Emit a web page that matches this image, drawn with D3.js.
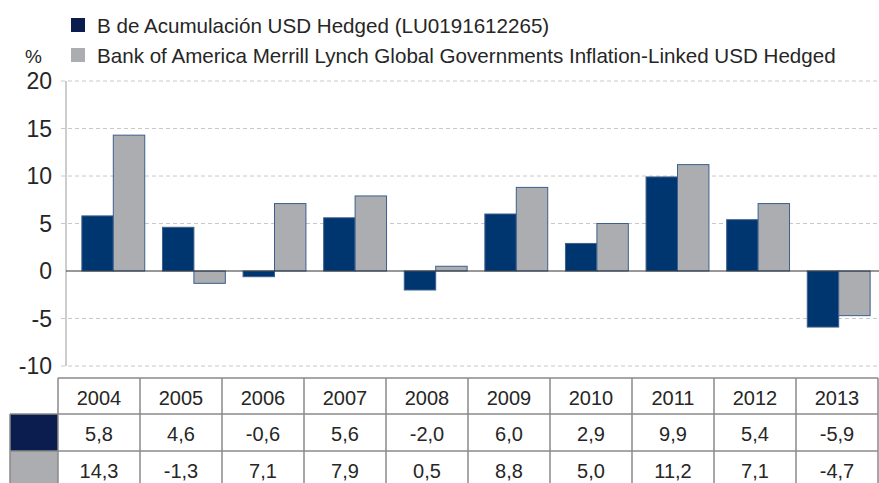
<!DOCTYPE html>
<html>
<head>
<meta charset="utf-8">
<script src="https://cdn.jsdelivr.net/npm/d3@7"></script>
<style>
  body { margin: 0; background: #fff; }
  svg text { font-family: "Liberation Sans", Arial, sans-serif; fill: #262626; }
</style>
</head>
<body>
<div id="container"></div>
<script>
/* DATA */
const years = ["2004", "2005", "2006", "2007", "2008", "2009", "2010", "2011", "2012", "2013"];
const fundValues = [5.8, 4.6, -0.6, 5.6, -2.0, 6.0, 2.9, 9.9, 5.4, -5.9];
const benchValues = [14.3, -1.3, 7.1, 7.9, 0.5, 8.8, 5.0, 11.2, 7.1, -4.7];
const seriesNames = [
  "B de Acumulación USD Hedged (LU0191612265)",
  "Bank of America Merrill Lynch Global Governments Inflation-Linked USD Hedged"
];
const yTicks = [20, 15, 10, 5, 0, -5, -10];

/* CONSTANTS */
const width = 879, height = 483;
const colors = ["#003670", "#abadb1"];
const swatchColors = ["#0b1d4f", "#abadb1"];

const svg = d3.select("#container").append("svg")
  .attr("width", width)
  .attr("height", height);

/* SCALES */
const yScale = d3.scaleLinear().domain([-10, 20]).range([366, 81]);
const xScale = d3.scaleBand().domain(years).range([73, 879])
  .paddingInner(0.22).paddingOuter(0.11);
const xSub = d3.scaleBand().domain([0, 1]).range([0, xScale.bandwidth()]);

// gridlines
svg.append("g").selectAll("line")
  .data(yTicks.filter(d => d !== 0))
  .join("line")
  .attr("x1", 61).attr("x2", 879)
  .attr("y1", d => yScale(d)).attr("y2", d => yScale(d))
  .attr("stroke", "#c8c8c8")
  .attr("stroke-dasharray", "4,3");

// y axis line
svg.append("line")
  .attr("x1", 66).attr("x2", 66)
  .attr("y1", yScale(20)).attr("y2", yScale(-10))
  .attr("stroke", "#bdbdbd").attr("stroke-width", 1.5);

// y labels
svg.append("g").selectAll("text")
  .data(yTicks)
  .join("text")
  .attr("x", 52)
  .attr("y", d => yScale(d) + 8)
  .attr("text-anchor", "end")
  .attr("font-size", 23)
  .text(d => d);

svg.append("text")
  .attr("x", 25).attr("y", 63)
  .attr("font-size", 19)
  .text("%");

// bars
const series = [fundValues, benchValues];
series.forEach((vals, s) => {
  svg.append("g").selectAll("rect")
    .data(vals)
    .join("rect")
    .attr("x", (d, i) => xScale(years[i]) + xSub(s))
    .attr("width", xSub.bandwidth())
    .attr("y", d => yScale(Math.max(0, d)))
    .attr("height", d => Math.abs(yScale(d) - yScale(0)))
    .attr("fill", colors[s])
    .attr("stroke", "#3d5f8e")
    .attr("stroke-width", 1);
});

// zero line
svg.append("line")
  .attr("x1", 66).attr("x2", 879)
  .attr("y1", yScale(0)).attr("y2", yScale(0))
  .attr("stroke", "#333").attr("stroke-width", 1);

// legend
const legend = svg.append("g").selectAll("g")
  .data(seriesNames)
  .join("g")
  .attr("transform", (d, i) => `translate(71, ${18 + i * 30})`);
legend.append("rect")
  .attr("width", 14).attr("height", 14)
  .attr("fill", (d, i) => swatchColors[i]);
legend.append("text")
  .attr("x", 26).attr("y", 15)
  .attr("font-size", 20.6)
  .text(d => d);

/* TABLE */
const tableX = d3.scaleBand().domain(years).range([58, 878]);
const rowTop = [378, 414, 451];
const rowH = [36, 37, 40];
const table = svg.append("g");

// swatch cells
[0, 1].forEach(s => {
  table.append("rect")
    .attr("x", 10).attr("y", rowTop[s + 1])
    .attr("width", 48).attr("height", rowH[s + 1])
    .attr("fill", swatchColors[s]);
});

// horizontal lines
table.append("line")
  .attr("x1", 58).attr("x2", 878).attr("y1", rowTop[0]).attr("y2", rowTop[0])
  .attr("stroke", "#8a8a8a").attr("stroke-width", 1.5);
[1, 2].forEach(r => {
  table.append("line")
    .attr("x1", 10).attr("x2", 878).attr("y1", rowTop[r]).attr("y2", rowTop[r])
    .attr("stroke", "#8a8a8a").attr("stroke-width", 1.5);
});

// vertical lines
table.selectAll(".vline")
  .data(years.concat(["end"]))
  .join("line")
  .attr("x1", (d, i) => i < years.length ? tableX(d) : 878)
  .attr("x2", (d, i) => i < years.length ? tableX(d) : 878)
  .attr("y1", rowTop[0]).attr("y2", height)
  .attr("stroke", "#8a8a8a").attr("stroke-width", 1.5);
table.append("line")
  .attr("x1", 10).attr("x2", 10).attr("y1", rowTop[1]).attr("y2", height)
  .attr("stroke", "#8a8a8a").attr("stroke-width", 1.5);

const fmt = v => d3.format(".1f")(v).replace(".", ",").replace("−", "-");

const rows = [years, fundValues.map(fmt), benchValues.map(fmt)];
rows.forEach((row, r) => {
  table.append("g").selectAll("text")
    .data(row)
    .join("text")
    .attr("x", (d, i) => tableX(years[i]) + tableX.bandwidth() / 2)
    .attr("y", rowTop[r] + 27)
    .attr("text-anchor", "middle")
    .attr("font-size", 20)
    .text(d => d);
});
</script>
</body>
</html>
